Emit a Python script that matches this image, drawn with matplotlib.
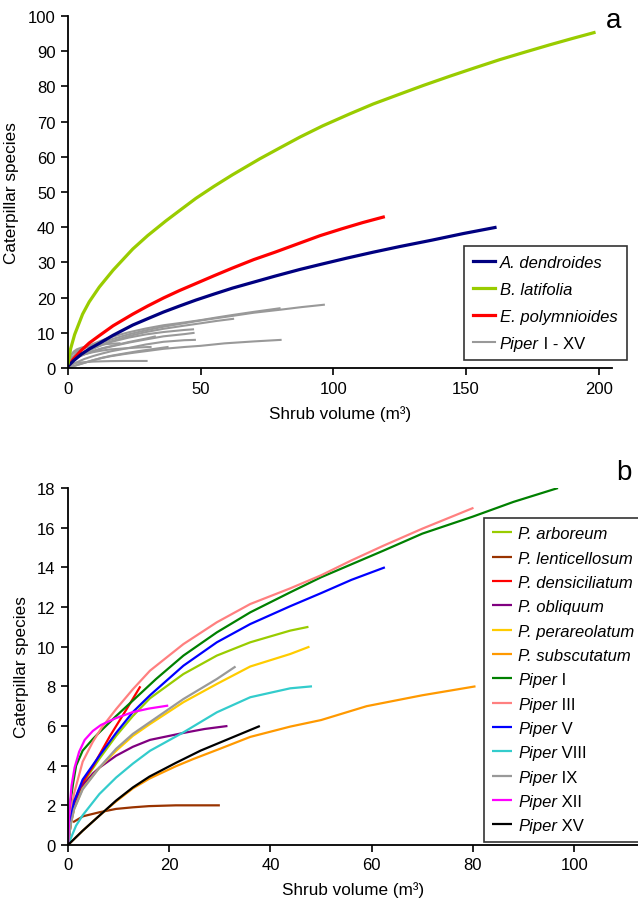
import matplotlib
matplotlib.use('Agg')
import matplotlib.pyplot as plt
from matplotlib.lines import Line2D

plt.rcParams['font.family'] = ['Liberation Sans', 'DejaVu Sans']

# ---- panel a : whole shrub species ----
dend_x = [0, 2, 5, 8, 11.8, 17, 24.4, 30, 36, 42, 48.2, 55, 62, 70, 78, 87.4, 95, 105, 115, 125, 137, 149, 161.5]
dend_y = [0.5, 2, 3.9, 5.4, 7.0, 9.3, 12.2, 14.0, 15.9, 17.6, 19.3, 21.0, 22.7, 24.4, 26.1, 28.0, 29.4, 31.2, 32.9,
          34.5, 36.3, 38.2, 40]
lati_x = [0, 1, 2.5, 5.5, 8, 11.8, 17, 24.4, 30, 36.9, 42, 48.2, 55, 62, 72.2, 80, 87.4, 96, 106.2, 115, 125, 134,
          143.9, 153, 162.7, 172, 181.5, 190, 198.8]
lati_y = [1, 5.5, 9.5, 15.3, 18.8, 23.0, 27.8, 33.8, 37.6, 41.8, 44.7, 48.2, 51.6, 54.9, 59.4, 62.6, 65.6, 68.8, 72.2,
          75.0, 77.8, 80.3, 82.9, 85.2, 87.6, 89.7, 91.8, 93.6, 95.4]
poly_x = [0, 2, 5, 8, 11.8, 17, 24.4, 30, 36, 42, 48.2, 55, 62, 70, 78, 87.4, 95, 103, 111, 119.4]
poly_y = [0.5, 2.5, 5.0, 7.1, 9.2, 12.0, 15.3, 17.6, 19.9, 22.0, 24.0, 26.2, 28.4, 30.8, 32.9, 35.5, 37.6, 39.5, 41.3, 43]

# ---- panel b : Piper species ----
arb_x = [0, 0.5, 1.2, 2.9, 6.2, 9.5, 12.8, 16.2, 22.8, 29.4, 36, 43.9, 47.5]
arb_y = [0, 1.2, 2.0, 3.1, 4.35, 5.5, 6.5, 7.4, 8.62, 9.55, 10.22, 10.81, 11.0]
len_x = [1, 3, 6.2, 9.5, 12.8, 16, 21.3, 25, 30]
len_y = [1.15, 1.45, 1.65, 1.82, 1.9, 1.96, 2.0, 2.0, 2.0]
den_x = [0, 0.8, 2, 3.5, 5, 8.3, 11.6, 14.3]
den_y = [0, 1.6, 2.7, 3.4, 4.0, 5.5, 6.86, 8.0]
obl_x = [0, 0.5, 1.2, 2.9, 4.9, 6.2, 9.5, 12.8, 16.2, 22.8, 27, 31.5]
obl_y = [0, 1.0, 1.9, 3.0, 3.6, 3.9, 4.5, 4.95, 5.3, 5.65, 5.85, 6.0]
per_x = [0, 0.5, 1.2, 2.9, 6.2, 9.5, 12.8, 16.2, 22.8, 29.4, 36, 43.9, 47.7]
per_y = [0, 1.0, 1.8, 2.85, 3.9, 4.75, 5.5, 6.1, 7.2, 8.12, 9.0, 9.63, 10.0]
sub_x = [0, 2.9, 6.2, 9.5, 12.8, 16.1, 21.3, 24.8, 30, 36, 43.9, 50, 59, 70, 80.5]
sub_y = [0, 0.72, 1.48, 2.2, 2.85, 3.35, 3.97, 4.34, 4.85, 5.45, 5.97, 6.3, 7.0, 7.55, 8.0]
p1_x = [0, 0.5, 1, 1.6, 2.9, 4.9, 6.2, 9.5, 12.8, 17.4, 22.8, 29.4, 36, 43.9, 50, 62.3, 70, 80, 88, 96.8]
p1_y = [0, 2.2, 3.1, 4.0, 4.76, 5.34, 5.68, 6.5, 7.28, 8.37, 9.55, 10.72, 11.73, 12.74, 13.5, 14.84, 15.7, 16.56,
        17.3, 18.0]
p3_x = [0, 0.5, 1.2, 2.9, 4.9, 6.6, 9.5, 12.8, 16.2, 22.8, 29.4, 36, 43.9, 50, 56, 62.3, 70, 80.1]
p3_y = [0, 1.5, 2.6, 4.2, 5.2, 5.9, 6.85, 7.85, 8.79, 10.13, 11.23, 12.15, 12.94, 13.6, 14.35, 15.09, 15.95, 17.0]
p5_x = [0, 0.5, 1.2, 2.9, 6.2, 9.5, 12.8, 16.2, 22.8, 29.4, 36, 43.9, 50, 56, 62.6]
p5_y = [0, 1.3, 2.2, 3.3, 4.5, 5.65, 6.7, 7.55, 9.04, 10.22, 11.14, 12.04, 12.7, 13.37, 14.0]
p8_x = [0, 1.6, 2.9, 6.2, 9.5, 12.8, 16.2, 22.8, 29.4, 36, 43.9, 48.2]
p8_y = [0, 0.98, 1.5, 2.57, 3.4, 4.1, 4.75, 5.68, 6.69, 7.45, 7.9, 8.0]
p9_x = [0, 0.5, 1.2, 2.9, 6.2, 9.5, 12.8, 16.2, 22.8, 29.4, 33.1]
p9_y = [0, 1.0, 1.8, 2.8, 3.9, 4.85, 5.6, 6.2, 7.36, 8.37, 9.0]
p12_x = [0, 0.3, 0.7, 1.3, 2.2, 3.3, 4.9, 6.5, 9.5, 12.8, 16, 19.8]
p12_y = [0, 1.8, 3.0, 3.9, 4.7, 5.3, 5.75, 6.05, 6.4, 6.7, 6.88, 7.03]
p15_x = [0, 2.9, 6.2, 9.5, 12.8, 16.1, 21.3, 26.2, 32.7, 37.9]
p15_y = [0, 0.72, 1.48, 2.24, 2.9, 3.45, 4.14, 4.76, 5.45, 6.0]

piper = [
    (arb_x, arb_y, '#99CC00', 'P. arboreum'),
    (len_x, len_y, '#993300', 'P. lenticellosum'),
    (den_x, den_y, '#FF0000', 'P. densiciliatum'),
    (obl_x, obl_y, '#800080', 'P. obliquum'),
    (per_x, per_y, '#FFCC00', 'P. perareolatum'),
    (sub_x, sub_y, '#FF9900', 'P. subscutatum'),
    (p1_x, p1_y, '#008000', 'Piper I'),
    (p3_x, p3_y, '#FF8080', 'Piper III'),
    (p5_x, p5_y, '#0000FF', 'Piper V'),
    (p8_x, p8_y, '#33CCCC', 'Piper VIII'),
    (p9_x, p9_y, '#999999', 'Piper IX'),
    (p12_x, p12_y, '#FF00FF', 'Piper XII'),
    (p15_x, p15_y, '#000000', 'Piper XV'),
]

FS_LEG = 12

fig = plt.figure(figsize=(6.38, 9.04), dpi=100)
ax1 = fig.add_axes([68/638, 1-369/904, 544/638, 352/904])
ax2 = fig.add_axes([68/638, 1-846/904, 570/638, 357/904])

# panel a
for x, y, c, lab in piper:
    ax1.plot(x, y, color='#999999', lw=1.5, solid_capstyle='butt')
ax1.plot(poly_x, poly_y, color='#FF0000', lw=2.3, solid_capstyle='butt')
ax1.plot(dend_x, dend_y, color='#000080', lw=2.3, solid_capstyle='butt')
ax1.plot(lati_x, lati_y, color='#99CC00', lw=2.3, solid_capstyle='butt')

h1 = [Line2D([], [], color='#000080', lw=2.3),
      Line2D([], [], color='#99CC00', lw=2.3),
      Line2D([], [], color='#FF0000', lw=2.3),
      Line2D([], [], color='#999999', lw=1.5)]
l1 = ['A. dendroides', 'B. latifolia', 'E. polymnioides', 'Piper I - XV']
leg1 = ax1.legend(h1, l1, loc='upper left', bbox_to_anchor=(0.728, 0.347), borderaxespad=0,
                  fontsize=FS_LEG, frameon=True, fancybox=False, edgecolor='black',
                  handlelength=1.3, handletextpad=0.3, labelspacing=0.71, borderpad=0.55)
leg1.get_frame().set_linewidth(1.2)

ax1.set_xlim(0, 205)
ax1.set_ylim(0, 100)
ax1.set_xticks([0, 50, 100, 150, 200])
ax1.set_yticks(range(0, 101, 10))
ax1.set_xlabel('Shrub volume (m³)', fontsize=12.3, labelpad=7)
ax1.set_ylabel('Caterpillar species', fontsize=12.3, labelpad=6)
fig.text(614/638, 1-21/904, 'a', fontsize=20, ha='center', va='center')

# panel b
for x, y, c, lab in piper:
    ax2.plot(x, y, color=c, lw=1.6, label=lab, solid_capstyle='butt')
leg2 = ax2.legend(loc='upper left', bbox_to_anchor=(0.730, 0.916), borderaxespad=0,
                  fontsize=FS_LEG, frameon=True, fancybox=False, edgecolor='black',
                  handlelength=1.2, handletextpad=0.35, labelspacing=0.56, borderpad=0.5)
leg2.get_frame().set_linewidth(1.2)

ax2.set_xlim(0, 112.6)
ax2.set_ylim(0, 18)
ax2.set_xticks([0, 20, 40, 60, 80, 100])
ax2.set_yticks(range(0, 19, 2))
ax2.set_xlabel('Shrub volume (m³)', fontsize=12.3, labelpad=6)
ax2.set_ylabel('Caterpillar species', fontsize=12.3, labelpad=6)
fig.text(624/638, 1-473/904, 'b', fontsize=20, ha='center', va='center')

for ax in (ax1, ax2):
    ax.spines['top'].set_visible(False)
    ax.spines['right'].set_visible(False)
    ax.spines['left'].set_linewidth(1.3)
    ax.spines['bottom'].set_linewidth(1.3)
    ax.tick_params(direction='out', length=5, width=1.2, labelsize=12, pad=4)

# legend labels: species names italic; for "Piper ..." only the genus is italic,
# the roman numerals are drawn upright right after it
suffixes = []
for leg in (leg1, leg2):
    for t in leg.get_texts():
        s = t.get_text()
        t.set_fontstyle('italic')
        if s.startswith('Piper'):
            t.set_text('Piper')
            suffixes.append((t, s[len('Piper'):]))

fig.canvas.draw()
renderer = fig.canvas.get_renderer()
W, H = fig.bbox.width, fig.bbox.height
for t, rest in suffixes:
    bb = t.get_window_extent(renderer)
    fig.text(bb.x1 / W, bb.y0 / H, rest, fontsize=FS_LEG, ha='left', va='bottom')

fig.savefig('out.png', dpi=100)
